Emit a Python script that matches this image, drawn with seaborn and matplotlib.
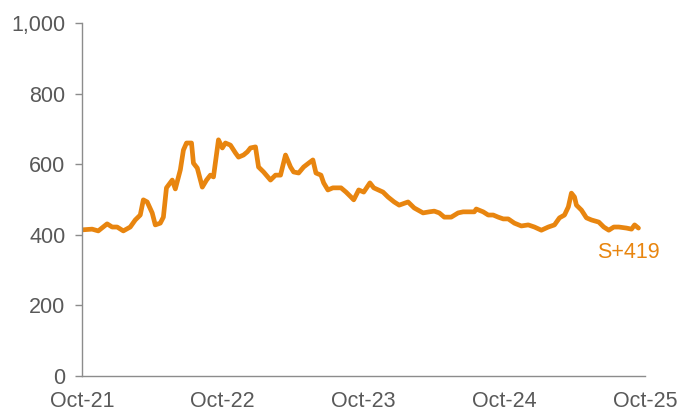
import pandas as pd
import matplotlib.pyplot as plt
import matplotlib.dates as mdates
import seaborn as sns

# Data
dates = [
    "2021-10-01", "2021-10-27", "2021-11-12", "2021-12-05", "2021-12-18", "2021-12-31",
    "2022-01-16", "2022-02-03", "2022-02-16", "2022-03-01", "2022-03-09", "2022-03-19",
    "2022-04-01", "2022-04-09", "2022-04-22", "2022-04-30", "2022-05-08", "2022-05-23",
    "2022-05-31", "2022-06-13", "2022-06-21", "2022-06-29", "2022-07-12", "2022-07-17",
    "2022-07-27", "2022-08-09", "2022-08-20", "2022-08-30", "2022-09-07", "2022-09-20",
    "2022-09-30", "2022-10-08", "2022-10-21", "2022-11-03", "2022-11-11", "2022-11-24",
    "2022-12-04", "2022-12-12", "2022-12-25", "2023-01-02", "2023-01-15", "2023-02-02",
    "2023-02-15", "2023-02-28", "2023-03-13", "2023-03-26", "2023-04-03", "2023-04-16",
    "2023-04-29", "2023-05-12", "2023-05-23", "2023-05-31", "2023-06-13", "2023-06-20",
    "2023-07-01", "2023-07-14", "2023-08-04", "2023-08-17", "2023-08-30", "2023-09-06",
    "2023-09-19", "2023-10-02", "2023-10-18", "2023-10-28", "2023-11-21", "2023-12-04",
    "2023-12-20", "2024-01-02", "2024-01-25", "2024-02-10", "2024-03-04", "2024-03-20",
    "2024-04-02", "2024-04-15", "2024-04-28", "2024-05-16", "2024-06-03", "2024-06-16",
    "2024-07-15", "2024-07-20", "2024-08-07", "2024-08-20", "2024-09-02", "2024-09-15",
    "2024-09-28", "2024-10-11", "2024-10-27", "2024-11-14", "2024-12-02", "2024-12-18",
    "2025-01-05", "2025-01-23", "2025-02-08", "2025-02-21", "2025-03-06", "2025-03-16",
    "2025-03-24", "2025-04-01", "2025-04-06", "2025-04-19", "2025-05-02", "2025-05-15",
    "2025-06-03", "2025-06-16", "2025-06-29", "2025-07-12", "2025-07-25", "2025-08-14",
    "2025-08-27", "2025-09-04", "2025-09-14",
]
spread = [
    414, 416, 411, 431, 422, 422,
    411, 422, 442, 456, 499, 493,
    462, 428, 433, 450, 533, 555,
    530, 584, 640, 660, 660, 603,
    589, 535, 555, 569, 564, 669,
    646, 660, 654, 632, 620, 626,
    635, 646, 649, 592, 578, 555,
    569, 569, 626, 592, 578, 575,
    592, 603, 612, 575, 569, 547,
    527, 533, 533, 521, 507, 499,
    527, 521, 547, 533, 521, 507,
    493, 484, 493, 476, 462, 465,
    467, 462, 450, 450, 462, 465,
    465, 473, 465, 456, 456, 450,
    445, 445, 433, 425, 428, 422,
    413, 422, 428, 448, 456, 479,
    518, 507, 484, 470, 448, 442,
    436, 422, 413, 422, 422, 419,
    416, 428, 419,
]
tick_dates = ["2021-10-01", "2022-10-01", "2023-10-01", "2024-10-01", "2025-10-01"]
y_ticks = [0, 200, 400, 600, 800, 1000]
last_label = "S+419"

df = pd.DataFrame({"date": pd.to_datetime(dates), "spread": spread})

sns.set_style("white")
plt.rcParams["font.family"] = ["Liberation Sans", "DejaVu Sans"]

orange = "#E8850F"
grey_text = "#595959"
grey_axis = "#8C8C8C"

fig = plt.figure(figsize=(6.84, 4.18), dpi=100)
ax = fig.add_axes([0.12, 0.1005, 0.823, 0.8445])

sns.lineplot(data=df, x="date", y="spread", color=orange, linewidth=3.4, ax=ax)

ax.set_ylim(0, 1000)
ax.set_xlim(pd.Timestamp(tick_dates[0]), pd.Timestamp(tick_dates[-1]))
ax.set_yticks(y_ticks)
ax.set_yticklabels([f"{v:,}" for v in y_ticks])
ax.set_xticks(pd.to_datetime(tick_dates))
ax.xaxis.set_major_formatter(mdates.DateFormatter("%b-%y"))
ax.set_xlabel("")
ax.set_ylabel("")

for side in ["top", "right"]:
    ax.spines[side].set_visible(False)
for side in ["left", "bottom"]:
    ax.spines[side].set_color(grey_axis)
    ax.spines[side].set_linewidth(1.0)

ax.tick_params(axis="y", length=5, width=1, color=grey_axis, pad=7,
               labelsize=15.5, labelcolor=grey_text, left=True)
ax.tick_params(axis="x", length=0, pad=11, labelsize=15.5, labelcolor=grey_text)

ax.text(df["date"].iloc[-1] - pd.Timedelta(days=25), df["spread"].iloc[-1] - 40,
        last_label, color=orange, fontsize=15.5, ha="center", va="top")

fig.savefig("out.png", dpi=100)
